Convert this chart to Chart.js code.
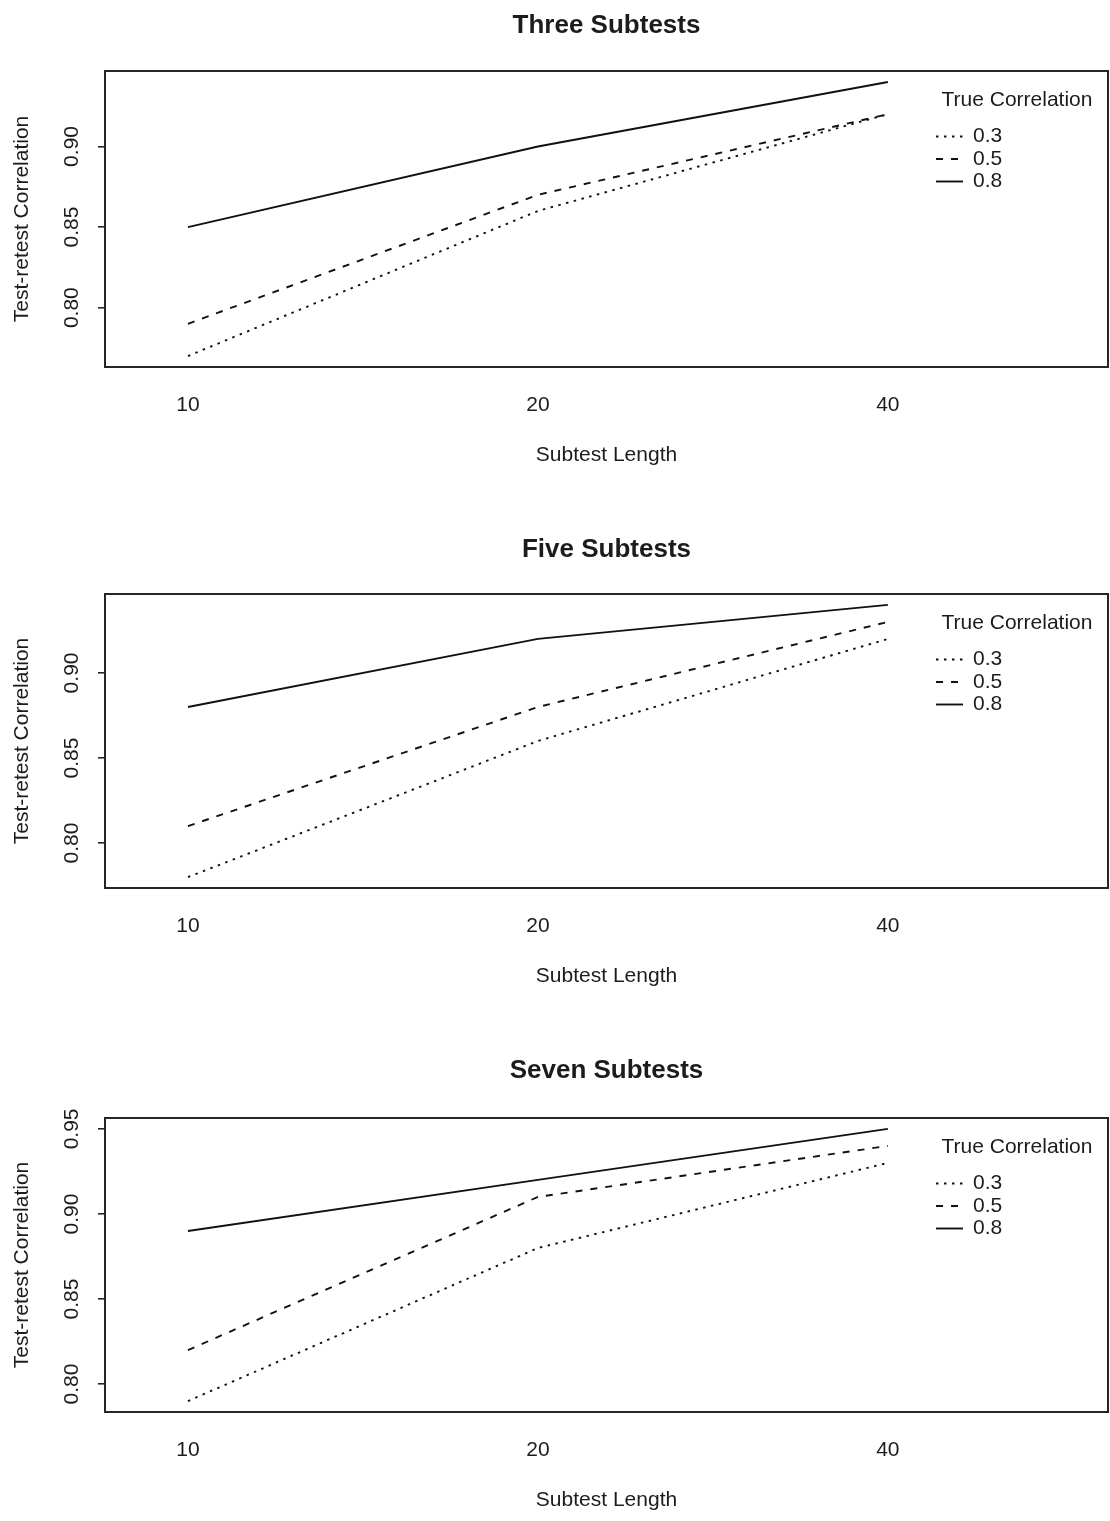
<!DOCTYPE html>
<html>
<head>
<meta charset="utf-8">
<script src="https://cdn.jsdelivr.net/npm/chart.js@4.4.1/dist/chart.umd.min.js"></script>
<style>
  html, body { margin: 0; padding: 0; background: #fff; overflow: hidden; }
  #wrap { position: relative; width: 1110px; height: 1521px; background: #fff; }
  #wrap canvas { position: absolute; left: 0; }
</style>
</head>
<body>
<div id="wrap">
  <canvas id="panel1"></canvas>
  <canvas id="panel2"></canvas>
  <canvas id="panel3"></canvas>
</div>
<script>
// ---- data ----
const lengthLabels = ['10', '20', '40'];          // subtest length (x axis)
const corrLabels = ['0.3', '0.5', '0.8'];          // true correlation (one line each)
const panelTitles = ['Three Subtests', 'Five Subtests', 'Seven Subtests'];

// test-retest correlation, three subtests
const threeR03 = [0.77, 0.86, 0.92];
const threeR05 = [0.79, 0.87, 0.92];
const threeR08 = [0.85, 0.90, 0.94];
// five subtests
const fiveR03 = [0.78, 0.86, 0.92];
const fiveR05 = [0.81, 0.88, 0.93];
const fiveR08 = [0.88, 0.92, 0.94];
// seven subtests
const sevenR03 = [0.79, 0.88, 0.93];
const sevenR05 = [0.82, 0.91, 0.94];
const sevenR08 = [0.89, 0.92, 0.95];

const yTicksThree = [0.80, 0.85, 0.90];
const yTicksFive = [0.80, 0.85, 0.90];
const yTicksSeven = [0.80, 0.85, 0.90, 0.95];

// ---- styling / layout ----
const FAMILY = '"Liberation Sans", Arial, Helvetica, sans-serif';
const INK = '#1c1c1c';
const LINE = '#111';
const dashes = [[2.5, 5.5], [7, 8], []];   // dotted, dashed, solid
const X_MIN = 0.763, X_MAX = 3.629;         // room on the right for the key
const AXIS_W = 105, AXIS_H = 108, HEAD = 71;

// page placement of each plot frame: [frame top, frame bottom, title gap]
const frames = [[71, 367, 47], [594, 888, 46], [1118, 1412, 49]];

Chart.defaults.font.family = FAMILY;
Chart.defaults.color = INK;

// frame around the plotting region
const framePlugin = {
  id: 'frame',
  afterDatasetsDraw(chart) {
    const a = chart.chartArea, ctx = chart.ctx;
    ctx.save();
    ctx.strokeStyle = '#262626';
    ctx.lineWidth = 2;
    ctx.strokeRect(a.left, a.top, a.right - a.left, a.bottom - a.top);
    ctx.restore();
  }
};

// line-type key in the upper right of the plot
const keyPlugin = {
  id: 'corrKey',
  afterDraw(chart, args, opts) {
    const a = chart.chartArea, ctx = chart.ctx;
    ctx.save();
    ctx.fillStyle = INK;
    ctx.font = '21px ' + FAMILY;
    ctx.textBaseline = 'middle';
    ctx.textAlign = 'center';
    ctx.fillText(opts.title, a.right - 91, a.top + 29);
    ctx.textAlign = 'left';
    chart.data.datasets.forEach((ds, i) => {
      const y = a.top + 65.5 + i * 22.5;
      ctx.strokeStyle = ds.borderColor;
      ctx.lineWidth = ds.borderWidth;
      ctx.setLineDash(ds.borderDash || []);
      ctx.beginPath();
      ctx.moveTo(a.right - 172, y);
      ctx.lineTo(a.right - 145, y);
      ctx.stroke();
      ctx.setLineDash([]);
      ctx.fillText(ds.label, a.right - 135, y);
    });
    ctx.restore();
  }
};

function yLimits(series) {
  const all = series.flat();
  const lo = Math.min(...all), hi = Math.max(...all);
  const ext = (hi - lo) * 0.04;
  return [lo - ext, hi + ext];
}

function makePanel(canvasId, idx, series, yTicks) {
  const [fTop, fBottom, gap] = frames[idx];
  const canvas = document.getElementById(canvasId);
  const h = (fBottom - fTop) + HEAD + AXIS_H;
  canvas.width = 1110;
  canvas.height = h;
  canvas.style.top = (fTop - HEAD) + 'px';
  const [yMin, yMax] = yLimits(series);
  const titleTop = HEAD - gap - 15.6 + 2;
  const titleBottom = HEAD - titleTop - 31.2;
  const xPos = lengthLabels.map((_, i) => i + 1);

  return new Chart(canvas, {
    type: 'line',
    data: {
      datasets: series.map((vals, k) => ({
        label: corrLabels[k],
        data: vals.map((v, i) => ({ x: xPos[i], y: v })),
        borderColor: LINE,
        borderWidth: 1.9,
        borderDash: dashes[k],
        borderCapStyle: 'butt',
        pointRadius: 0,
        pointHoverRadius: 0,
        tension: 0,
        fill: false
      }))
    },
    options: {
      responsive: false,
      animation: false,
      events: [],
      layout: { padding: { left: 0, right: 2, top: 0, bottom: 0 } },
      plugins: {
        legend: { display: false },
        tooltip: { enabled: false },
        title: {
          display: true,
          fullSize: false,
          text: panelTitles[idx],
          color: INK,
          font: { size: 26, weight: 'bold', family: FAMILY, lineHeight: 1.2 },
          padding: { top: titleTop, bottom: titleBottom }
        },
        corrKey: { title: 'True Correlation' }
      },
      scales: {
        x: {
          type: 'linear',
          min: X_MIN,
          max: X_MAX,
          afterBuildTicks: s => { s.ticks = xPos.map(v => ({ value: v })); },
          afterFit: s => { s.height = AXIS_H; },
          grid: { display: false },
          border: { display: false },
          ticks: {
            autoSkip: false,
            minRotation: 0,
            maxRotation: 0,
            padding: 17.9,
            color: INK,
            font: { size: 21, family: FAMILY, lineHeight: 1.2 },
            callback: (v, i) => lengthLabels[i]
          },
          title: {
            display: true,
            text: 'Subtest Length',
            color: INK,
            font: { size: 21, family: FAMILY, lineHeight: 1.2 },
            padding: { top: 0, bottom: 7.4 }
          }
        },
        y: {
          min: yMin,
          max: yMax,
          afterBuildTicks: s => { s.ticks = yTicks.map(v => ({ value: v })); },
          afterFit: s => { s.width = AXIS_W; },
          grid: {
            drawOnChartArea: false,
            drawTicks: true,
            tickLength: 7,
            color: '#262626',
            lineWidth: 1.6
          },
          border: { display: false },
          ticks: {
            minRotation: 90,
            maxRotation: 90,
            crossAlign: 'center',
            padding: 5.6,
            color: INK,
            font: { size: 21, family: FAMILY, lineHeight: 1.2 },
            callback: v => Number(v).toFixed(2)
          },
          title: {
            display: true,
            text: 'Test-retest Correlation',
            color: INK,
            font: { size: 21, family: FAMILY, lineHeight: 1.2 },
            padding: { top: 9.4, bottom: 0 }
          }
        }
      }
    },
    plugins: [framePlugin, keyPlugin]
  });
}

makePanel('panel1', 0, [threeR03, threeR05, threeR08], yTicksThree);
makePanel('panel2', 1, [fiveR03, fiveR05, fiveR08], yTicksFive);
makePanel('panel3', 2, [sevenR03, sevenR05, sevenR08], yTicksSeven);
</script>
</body>
</html>
